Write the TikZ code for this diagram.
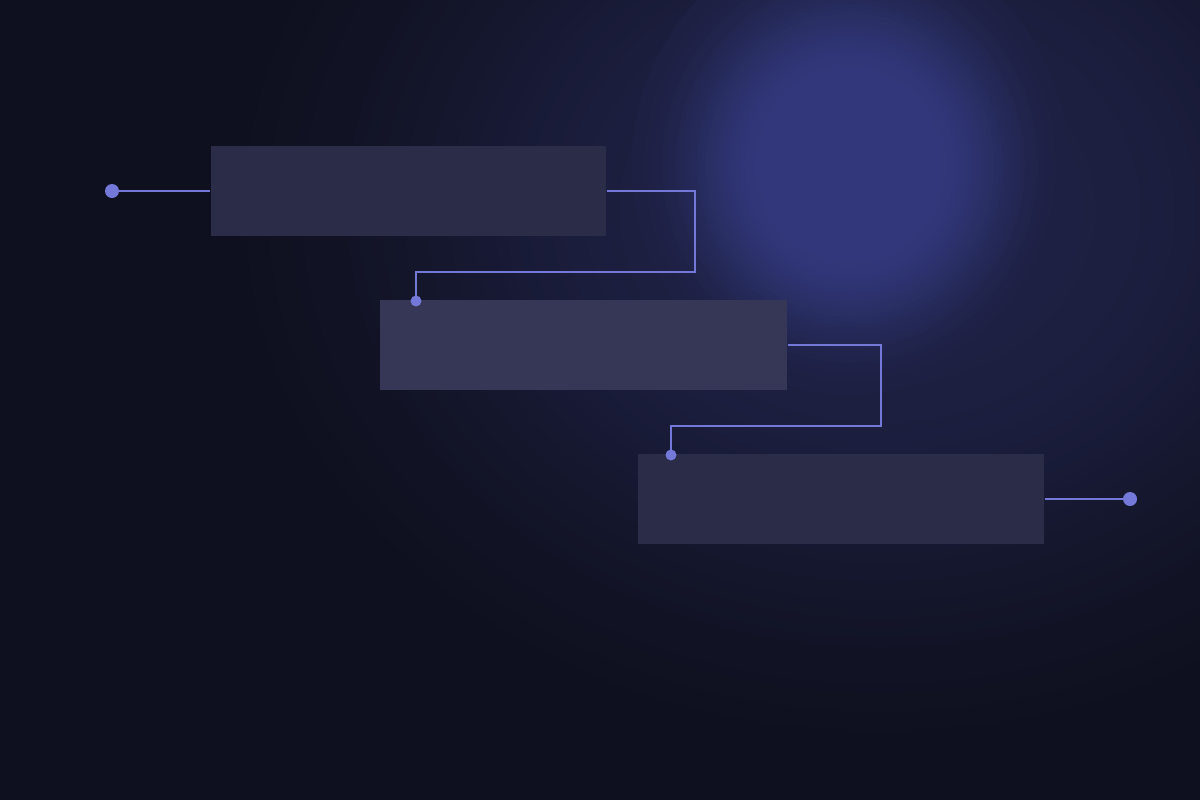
\documentclass[tikz,border=0pt]{standalone}
\usepackage{tikz}
\usetikzlibrary{positioning}

\definecolor{bgc}{HTML}{0F101F}
\definecolor{halo}{HTML}{1D2042}
\definecolor{glowc}{HTML}{31377A}
\definecolor{boxa}{HTML}{2A2C48}
\definecolor{boxb}{HTML}{363756}
\definecolor{linkc}{HTML}{7478D8}

\tikzset{
  panel/.style={rectangle, minimum height=0.9cm, inner sep=0pt, draw=none},
  link/.style={color=linkc, line width=0.015cm},
  dot/.style={fill=linkc}
}

\begin{document}
\begin{tikzpicture}[x=0.01cm, y=-0.01cm]

\useasboundingbox (0,0) rectangle (1200,800);
\fill[bgc] (0,0) rectangle (1200,800);
% soft light behind the steps
\foreach \i in {0,...,59}{
  \pgfmathsetmacro\hs{min(1,\i/60/0.75)}
  \pgfmathsetmacro\hp{100*\hs*\hs*(3-2*\hs)}
  \pgfmathsetmacro\hr{680*(1-\i/60)}
  \fill[halo!\hp!bgc] (880,210) ellipse ({\hr} and {0.82*\hr});
}
\foreach \i in {0,...,49}{
  \pgfmathsetmacro\gs{min(1,\i/50/0.6)}
  \pgfmathsetmacro\gp{100*\gs*\gs*(3-2*\gs)}
  \pgfmathsetmacro\gr{230*(1-\i/50)}
  \fill[glowc!\gp!halo] (850,165) ellipse ({0.95*\gr} and {\gr});
}

\node[panel, fill=boxa, minimum width=3.95cm] (box1) at (408.5,191) {};
\node[panel, fill=boxb, minimum width=4.07cm] (box2) at (583.5,345) {};
\node[panel, fill=boxa, minimum width=4.06cm] (box3) at (841,499) {};

\coordinate (d1) at (112,191);
\coordinate (d2) at (416,301);
\coordinate (d3) at (671,455);
\coordinate (d4) at (1130,499);

\draw[link] (d1) -- (box1.west);
\draw[link] (box1.east) -| (695,272) -| (d2);
\draw[link] (box2.east) -| (881,426) -| (d3);
\draw[link] (box3.east) -- (d4);

\fill[dot] (d1) circle (7);
\fill[dot] (d2) circle (5.5);
\fill[dot] (d3) circle (5.5);
\fill[dot] (d4) circle (7);
\end{tikzpicture}
\end{document}
